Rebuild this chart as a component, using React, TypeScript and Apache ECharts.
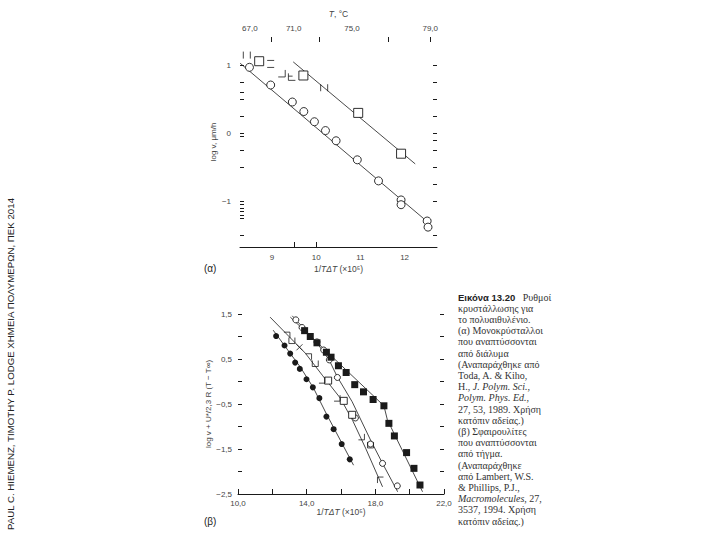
import React, { useEffect, useRef } from "react";
import * as echarts from "echarts";

// ---------- panel (α) ----------
const xTickLabelsA = [9, 10, 11, 12];
const xTickMarksA = [9.5, 10];
const yTickLabelsA = [-1, 0, 1];
const yTickMarksLeftA = [1, 0.75, 0.6, 0.5, 0.25, 0, -0.05, -0.25, -0.5, -1, -1.05, -1.1, -1.15, -1.2, -1.25, -1.5];
const yTickMarksRightA = [1, 0.75, 0.5, 0.25, 0, -0.1, -0.25, -0.5, -0.75, -1, -1.5];
const topTempLabels = ["67,0", "71,0", "75,0", "79,0"];
const topTempLabelAt = [8.5, 9.49, 10.81, 12.58];
const topTempTickAt = [8.98, 10.06, 11.63, 12.57];

const circlesA_x = [8.49, 8.97, 9.46, 9.72, 9.96, 10.21, 10.45, 10.93, 11.41, 11.92, 11.92, 12.51, 12.53];
const circlesA_y = [0.97, 0.71, 0.46, 0.32, 0.17, 0.04, -0.11, -0.39, -0.7, -0.98, -1.05, -1.29, -1.38];
const squaresA_x = [8.71, 9.71, 10.95, 11.92];
const squaresA_y = [1.06, 0.85, 0.3, -0.3];
const fragA_x = [8.43, 8.97, 9.22, 9.45, 10.18];
const fragA_y = [1.15, 1.02, 0.88, 0.83, 0.67];
const fragA_kind = ["bars", "eq", "rhook", "ell", "bars"];
const fitCirclesA_x = [8.28, 12.55];
const fitCirclesA_y = [1.03, -1.32];
const fitSquaresA_x = [9.48, 12.24];
const fitSquaresA_y = [1.05, -0.45];

// ---------- panel (β) ----------
const filledCircB_x = [12.22, 12.71, 13.04, 13.33, 13.6, 13.99, 14.36, 14.74, 15.15, 15.57, 16.04, 16.51];
const filledCircB_y = [1.01, 0.8, 0.62, 0.42, 0.28, 0.05, -0.13, -0.37, -0.78, -1.06, -1.39, -1.73];
const openCircB_x = [13.37, 13.73, 14.6, 14.99, 15.32, 15.79, 16.84, 17.72, 18.42, 19.28];
const openCircB_y = [1.37, 1.2, 0.88, 0.7, 0.48, 0.09, -0.81, -1.39, -1.82, -2.32];
const openSqB_x = [15.25, 16.16, 16.65];
const openSqB_y = [0.02, -0.43, -0.74];
const fragB_x = [12.85, 13.14, 13.58, 14.11, 14.5, 14.89, 15.77, 17.19, 17.72, 18.3];
const fragB_y = [1.03, 0.91, 0.76, 0.55, 0.4, 0.03, -0.37, -1.23, -1.41, -2.19];
const fragB_kind = ["hook", "cup", "cross", "hook", "cup", "rhook", "rhook", "rhook", "cup", "gamma"];
const filledSqB_x = [13.88, 14.21, 14.6, 15.15, 15.42, 15.85, 16.3, 16.8, 17.31, 17.87, 18.5, 18.79, 19.11, 19.82, 20.25, 20.6];
const filledSqB_y = [1.13, 1.0, 0.86, 0.65, 0.54, 0.35, 0.2, -0.07, -0.23, -0.4, -0.54, -0.93, -1.21, -1.58, -1.93, -2.3];

const fitFilledCircB_x = [12.05, 13.63, 14.39, 15.15, 16.73];
const fitFilledCircB_y = [1.14, 0.32, -0.14, -0.72, -1.86];
const fitOpenSqB_x = [11.87, 13.92, 14.91, 15.96, 16.67, 17.43, 18.42];
const fitOpenSqB_y = [1.43, 0.63, 0.14, -0.37, -0.86, -1.48, -2.34];
const fitOpenCircB_x = [13.16, 14.6, 15.32, 15.79, 16.65, 17.72, 18.42, 19.3];
const fitOpenCircB_y = [1.46, 0.86, 0.47, 0.1, -0.45, -1.3, -1.82, -2.45];
const fitFilledSqB_x = [13.05, 18.5, 18.7, 20.75];
const fitFilledSqB_y = [1.43, -0.54, -0.85, -2.45];

// ---------- texts ----------
const creditText = "PAUL C. HIEMENZ, TIMOTHY P. LODGE ΧΗΜΕΙΑ ΠΟΛΥΜΕΡΩΝ, ΠΕΚ 2014";
const captionLines = [
  "{b|Εικόνα 13.20}   Ρυθμοί",
  "κρυστάλλωσης για",
  "το πολυαιθυλένιο.",
  "(α) Μονοκρύσταλλοι",
  "που αναπτύσσονται",
  "από διάλυμα",
  "(Αναπαράχθηκε από",
  "Toda, A. & Kiho,",
  "H., {i|J. Polym. Sci.},",
  "{i|Polym. Phys. Ed.},",
  "27, 53, 1989. Χρήση",
  "κατόπιν αδείας.)",
  "(β) Σφαιρουλίτες",
  "που αναπτύσσονται",
  "από τήγμα.",
  "(Αναπαράχθηκε",
  "από Lambert, W.S.",
  "& Phillips, P.J.,",
  "{i|Macromolecules}, 27,",
  "3537, 1994. Χρήση",
  "κατόπιν αδείας.)",
];

const fragPaths: Record<string, string> = {
  bars: "path://M0,0L0,10M6,0L6,10",
  eq: "path://M0,0L10,0M0,6L10,6",
  hook: "path://M0,0L10,0L10,10",
  ell: "path://M0,0L0,10L10,10M0,4L6,4",
  cup: "path://M0,0L0,10L10,10L10,0",
  cross: "path://M0,0L10,10M10,0L0,10",
  rhook: "path://M10,0L10,10L0,10",
  gamma: "path://M0,10L0,0L10,0",
};

const INK = "#1a1a1a";
const LABEL = "#444";
const SANS = "Liberation Sans, Arial, sans-serif";
const SERIF = "Liberation Serif, Times New Roman, serif";

const zip = (xs: number[], ys: number[]) => xs.map((x, i) => [x, ys[i]]);
const commaNum = (v: number) => v.toFixed(1).replace(".", ",").replace("-", "−");

function App() {
  const ref = useRef<HTMLDivElement>(null);
  useEffect(() => {
    if (!ref.current) return;
    const chart = echarts.init(ref.current, null, { renderer: "svg" });

    const lineSeries = (xs: number[], ys: number[], xi: number, yi: number) => ({
      type: "line",
      xAxisIndex: xi,
      yAxisIndex: yi,
      data: zip(xs, ys),
      symbol: "none",
      showSymbol: false,
      silent: true,
      z: 1,
      lineStyle: { color: INK, width: 0.8 },
    });
    const scatter = (data: any[], xi: number, yi: number, symbol: string, size: number, filled: boolean) => ({
      type: "scatter",
      xAxisIndex: xi,
      yAxisIndex: yi,
      data,
      symbol,
      symbolSize: size,
      silent: true,
      z: 3,
      itemStyle: {
        color: filled ? INK : "#ffffff",
        borderColor: INK,
        borderWidth: filled ? 0 : 0.9,
        opacity: 1,
      },
    });
    const fragScatter = (xs: number[], ys: number[], kinds: string[], xi: number, yi: number, size: number) => ({
      type: "scatter",
      xAxisIndex: xi,
      yAxisIndex: yi,
      data: xs.map((x, i) => ({ value: [x, ys[i]], symbol: fragPaths[kinds[i]] })),
      symbolSize: size,
      silent: true,
      z: 3,
      itemStyle: { color: "rgba(0,0,0,0)", borderColor: INK, borderWidth: 1 },
    });

    const axLabel = { color: LABEL, fontFamily: SANS, fontSize: 8 };

    const option: any = {
      animation: false,
      backgroundColor: "#ffffff",
      grid: [
        { left: 240, top: 37, width: 197, height: 210 },
        { left: 238, top: 314, width: 206, height: 180 },
      ],
      xAxis: [
        {
          gridIndex: 0,
          type: "value",
          position: "bottom",
          min: 8.276,
          max: 12.733,
          axisLine: { show: true, onZero: false, lineStyle: { color: INK, width: 1 } },
          axisTick: { show: true, inside: true, length: 5, customValues: xTickMarksA, lineStyle: { color: INK } },
          axisLabel: { ...axLabel, margin: 6, customValues: xTickLabelsA, formatter: (v: number) => String(v) },
          splitLine: { show: false },
          name: "1/{i|TΔT} (×10⁵)",
          nameLocation: "middle",
          nameGap: 17,
          nameTextStyle: {
            color: LABEL, fontFamily: SANS, fontSize: 8.5,
            rich: { i: { fontStyle: "italic", color: LABEL, fontFamily: SANS, fontSize: 8.5 } },
          },
        },
        {
          gridIndex: 0,
          type: "value",
          position: "top",
          min: 8.276,
          max: 12.733,
          axisLine: { show: false, onZero: false },
          axisTick: { show: true, inside: true, length: 5, customValues: topTempTickAt, lineStyle: { color: INK } },
          axisLabel: {
            ...axLabel,
            margin: 5,
            customValues: topTempLabelAt,
            formatter: (v: number) => {
              const i = topTempLabelAt.indexOf(v);
              return i >= 0 ? topTempLabels[i] : "";
            },
          },
          splitLine: { show: false },
          name: "{i|T}, °C",
          nameLocation: "middle",
          nameGap: 19,
          nameTextStyle: {
            color: LABEL, fontFamily: SANS, fontSize: 8.5,
            rich: { i: { fontStyle: "italic", color: LABEL, fontFamily: SANS, fontSize: 8.5 } },
          },
        },
        {
          gridIndex: 1,
          type: "value",
          position: "bottom",
          min: 10,
          max: 22,
          interval: 2,
          axisLine: { show: true, onZero: false, lineStyle: { color: INK, width: 1 } },
          axisTick: { show: true, inside: true, length: 5, lineStyle: { color: INK } },
          axisLabel: {
            ...axLabel,
            margin: 5,
            formatter: (v: number) => (Math.abs((v - 10) % 4) < 1e-6 ? commaNum(v) : ""),
          },
          splitLine: { show: false },
          name: "1/{i|TΔT} (×10⁵)",
          nameLocation: "middle",
          nameGap: 13,
          nameTextStyle: {
            color: LABEL, fontFamily: SANS, fontSize: 8.5,
            rich: { i: { fontStyle: "italic", color: LABEL, fontFamily: SANS, fontSize: 8.5 } },
          },
        },
      ],
      yAxis: [
        {
          gridIndex: 0,
          type: "value",
          position: "left",
          min: -1.672,
          max: 1.416,
          axisLine: { show: false, onZero: false },
          axisTick: { show: true, inside: true, length: 4, customValues: yTickMarksLeftA, lineStyle: { color: INK } },
          axisLabel: {
            ...axLabel,
            margin: 9,
            customValues: yTickLabelsA,
            formatter: (v: number) => (v < 0 ? "−" + Math.abs(v) : String(v)),
          },
          splitLine: { show: false },
          name: "log v, μm/h",
          nameLocation: "middle",
          nameRotate: 90,
          nameGap: 15,
          nameTextStyle: { color: LABEL, fontFamily: SANS, fontSize: 8 },
        },
        {
          gridIndex: 0,
          type: "value",
          position: "right",
          min: -1.672,
          max: 1.416,
          axisLine: { show: false, onZero: false },
          axisTick: { show: true, inside: true, length: 4, customValues: yTickMarksRightA, lineStyle: { color: INK } },
          axisLabel: { show: false },
          splitLine: { show: false },
        },
        {
          gridIndex: 1,
          type: "value",
          position: "left",
          min: -2.5,
          max: 1.5,
          interval: 0.5,
          axisLine: { show: false, onZero: false },
          axisTick: { show: true, inside: true, length: 4, lineStyle: { color: INK } },
          axisLabel: {
            ...axLabel,
            margin: 6,
            formatter: (v: number) => {
              const k = v + 2.5;
              return Math.abs(k - Math.round(k)) < 1e-6 ? commaNum(v) : "";
            },
          },
          splitLine: { show: false },
          name: "log v + U*/2,3 R (T − T∞)",
          nameLocation: "middle",
          nameRotate: 90,
          nameGap: 24,
          nameTextStyle: { color: LABEL, fontFamily: SANS, fontSize: 8 },
        },
        {
          gridIndex: 1,
          type: "value",
          position: "right",
          min: -2.5,
          max: 1.5,
          interval: 0.5,
          axisLine: { show: false, onZero: false },
          axisTick: { show: true, inside: true, length: 4, lineStyle: { color: INK } },
          axisLabel: { show: false },
          splitLine: { show: false },
        },
      ],
      series: [
        lineSeries(fitCirclesA_x, fitCirclesA_y, 0, 0),
        lineSeries(fitSquaresA_x, fitSquaresA_y, 0, 0),
        scatter(zip(circlesA_x, circlesA_y), 0, 0, "circle", 8, false),
        scatter(zip(squaresA_x, squaresA_y), 0, 0, "rect", 9, false),
        fragScatter(fragA_x, fragA_y, fragA_kind, 0, 0, 7),

        lineSeries(fitFilledCircB_x, fitFilledCircB_y, 2, 2),
        lineSeries(fitOpenSqB_x, fitOpenSqB_y, 2, 2),
        lineSeries(fitOpenCircB_x, fitOpenCircB_y, 2, 2),
        lineSeries(fitFilledSqB_x, fitFilledSqB_y, 2, 2),
        scatter(zip(filledCircB_x, filledCircB_y), 2, 2, "circle", 6, true),
        scatter(zip(openCircB_x, openCircB_y), 2, 2, "circle", 6, false),
        scatter(zip(openSqB_x, openSqB_y), 2, 2, "rect", 7, false),
        fragScatter(fragB_x, fragB_y, fragB_kind, 2, 2, 6),
        scatter(zip(filledSqB_x, filledSqB_y), 2, 2, "rect", 7, true),
      ],
      graphic: [
        {
          type: "text",
          x: 10,
          y: 364,
          rotation: Math.PI / 2,
          style: {
            text: creditText,
            fill: "#222",
            fontFamily: SANS,
            fontSize: 9.7,
            align: "center",
            verticalAlign: "middle",
          },
        },
        {
          type: "text",
          x: 204,
          y: 268,
          style: { text: "(α)", fill: "#222", fontFamily: SANS, fontSize: 10, verticalAlign: "middle" },
        },
        {
          type: "text",
          x: 204,
          y: 521,
          style: { text: "(β)", fill: "#222", fontFamily: SANS, fontSize: 10, verticalAlign: "middle" },
        },
        ...captionLines.map((t, i) => ({
          type: "text",
          x: 458,
          y: 297 + i * 11.2,
          style: {
            text: t,
            fill: "#333",
            fontFamily: SERIF,
            fontSize: 10,
            verticalAlign: "middle",
            rich: {
              b: { fontFamily: SANS, fontWeight: "bold", fontSize: 9.5, fill: "#222", color: "#222" },
              i: { fontFamily: SERIF, fontStyle: "italic", fontSize: 10, fill: "#333", color: "#333" },
            },
          },
        })),
      ],
    };

    chart.setOption(option);
    return () => chart.dispose();
  }, []);

  return (
    <div
      ref={ref}
      style={{ position: "fixed", left: 0, top: 0, width: 720, height: 540, background: "#fff" }}
    />
  );
}

export default App;
